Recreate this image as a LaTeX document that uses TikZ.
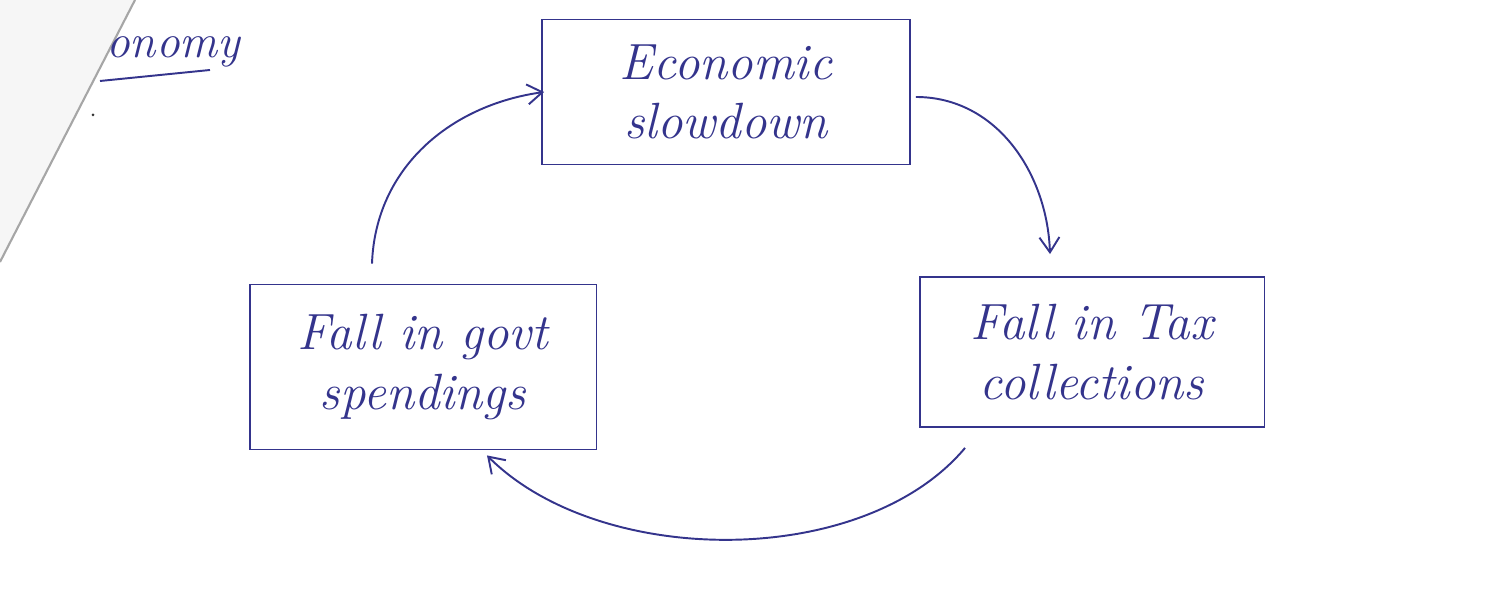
\documentclass[tikz,border=0pt]{standalone}
\usepackage{xcolor}
\usepackage{tikz}
\usetikzlibrary{arrows.meta}

\definecolor{ink}{RGB}{52,52,140}

\begin{document}
\begin{tikzpicture}[
  x=0.02cm, y=-0.02cm,
  ink/.style={draw=ink, line width=1.1pt},
  box/.style={ink, align=center, text=ink, font=\fontsize{29}{34}\selectfont\itshape, inner sep=0pt},
  flow/.style={ink, -{Straight Barb[length=3mm, width=4mm]}}
]
\useasboundingbox (0,0) rectangle (1495,590);
% page edge
\fill[gray!7] (0,0) -- (135,0) -- (0,262) -- cycle;
\draw[gray!70, line width=1.2pt] (135,0) -- (0,262);
\fill[black!80] (93,115) circle (1.5);

\node[anchor=west, text=ink, font=\fontsize{27}{30}\selectfont\itshape] (econ) at (100,52) {onomy};
\draw[ink] (100,81) -- (210,70);

\node[box, minimum width=7.36cm, minimum height=2.9cm] (slow) at (726,92) {Economic\\slowdown};
\node[box, minimum width=6.9cm, minimum height=3cm] (tax) at (1092,352) {Fall in Tax\\collections};
\node[box, minimum width=6.94cm, minimum height=3.3cm] (govt) at (423,367) {Fall in govt\\spendings};

\draw[flow] ([xshift=0.1cm, yshift=-0.1cm]slow.east) to[out=0, in=92] ([xshift=-0.84cm, yshift=0.44cm]tax.north);
\draw[flow] ([xshift=-2.54cm, yshift=-0.4cm]tax.south) to[out=-130, in=-45, looseness=0.85] ([xshift=1.28cm, yshift=-0.1cm]govt.south);
\draw[flow] ([xshift=-1.02cm, yshift=0.4cm]govt.north) to[out=88, in=188] ([xshift=0.06cm]slow.west);
\end{tikzpicture}
\end{document}
